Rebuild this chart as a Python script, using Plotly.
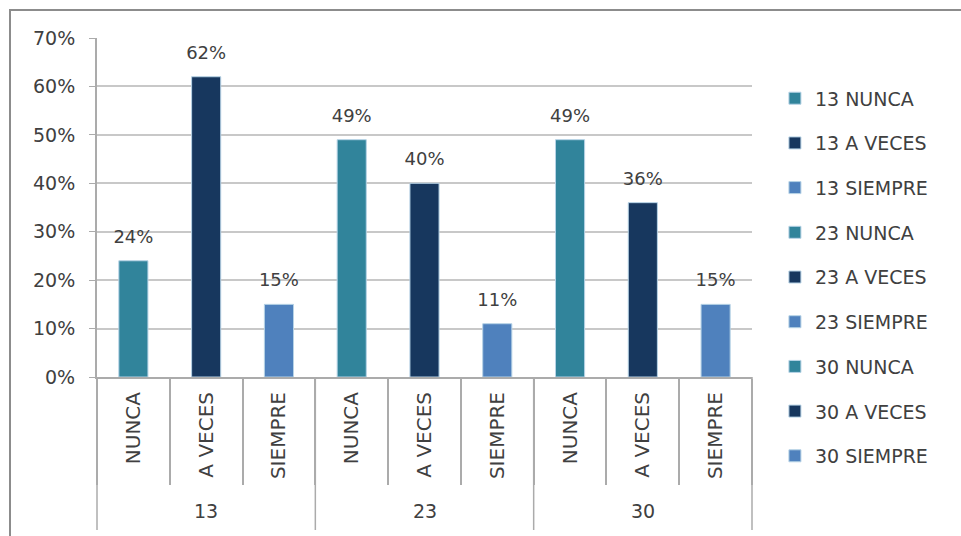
import plotly.graph_objects as go

groups = ["13", "23", "30"]
answers = ["NUNCA", "A VECES", "SIEMPRE"]
values = {
    "13": [0.24, 0.62, 0.15],
    "23": [0.49, 0.40, 0.11],
    "30": [0.49, 0.36, 0.15],
}
colors = {"NUNCA": "#31849B", "A VECES": "#17375E", "SIEMPRE": "#4F81BD"}

FONT = "DejaVu Sans"
TXT = "#404040"
LINE = "#ABABAB"

fig = go.Figure()
cats, labels, yv = [], [], []
for g in groups:
    for a, v in zip(answers, values[g]):
        name = f"{g} {a}"
        fig.add_trace(go.Bar(
            x=[name], y=[v], name=name, legendgroup=name,
            marker=dict(color=colors[a], line=dict(color="#B7D3E6", width=1)),
            width=0.4, hovertemplate=name + ": %{y:.0%}<extra></extra>",
        ))
        cats.append(name); labels.append(a); yv.append(v)

# data labels
fig.add_trace(go.Scatter(
    x=cats, y=yv, mode="markers+text",
    marker=dict(size=20, opacity=0), texttemplate="%{y:.0%}",
    textposition="top center", textfont=dict(family=FONT, size=18, color=TXT),
    showlegend=False, hoverinfo="skip", cliponaxis=False,
))

fig.update_layout(
    width=961, height=536,
    margin=dict(l=97, r=209, t=38, b=159),
    paper_bgcolor="white", plot_bgcolor="white",
    barmode="overlay",
    font=dict(family=FONT, size=18, color=TXT),
    legend=dict(x=1.035, y=0.878, xanchor="left", yanchor="top",
                font=dict(family=FONT, size=19, color=TXT),
                tracegroupgap=17, itemwidth=30, maxheight=500),
    showlegend=True,
)
fig.update_yaxes(range=[0, 0.7], dtick=0.1, tickformat=".0%",
                 showgrid=True, gridcolor="#C8C8C8", gridwidth=2,
                 showline=True, linecolor=LINE, linewidth=2,
                 ticks="outside", ticklen=6, tickcolor=LINE,
                 ticklabelstandoff=10,
                 zeroline=False, tickfont=dict(size=19, color=TXT))
fig.update_xaxes(type="category", categoryorder="array", categoryarray=cats,
                 range=[-0.5, len(cats) - 0.5],
                 tickvals=cats, ticktext=labels, tickangle=-90,
                 showline=True, linecolor=LINE, linewidth=2,
                 ticks="outside", tickson="boundaries", ticklen=106,
                 tickcolor=LINE, tickwidth=1.5, ticklabelstandoff=5,
                 tickfont=dict(size=20, color=TXT))

n_total = len(cats)
y_div = (377 - 530) / 339
for i, g in enumerate(groups):
    fig.add_annotation(xref="paper", yref="paper",
                       x=(i * len(answers) + len(answers) / 2) / n_total,
                       y=(377 - 511) / 339, text=g, showarrow=False,
                       font=dict(family=FONT, size=19, color=TXT),
                       xanchor="center", yanchor="middle")
for i in range(len(groups) + 1):
    xp = i * len(answers) / n_total
    fig.add_shape(type="line", xref="paper", yref="paper",
                  x0=xp, x1=xp, y0=0, y1=y_div,
                  line=dict(color=LINE, width=1.5))

fig.add_shape(type="rect", xref="paper", yref="paper",
              x0=(10 - 97) / 655, x1=2, y0=-2, y1=(377 - 10) / 339,
              line=dict(color="#8C8C8C", width=2), fillcolor="rgba(0,0,0,0)",
              layer="below")

fig.write_html("out.html")
